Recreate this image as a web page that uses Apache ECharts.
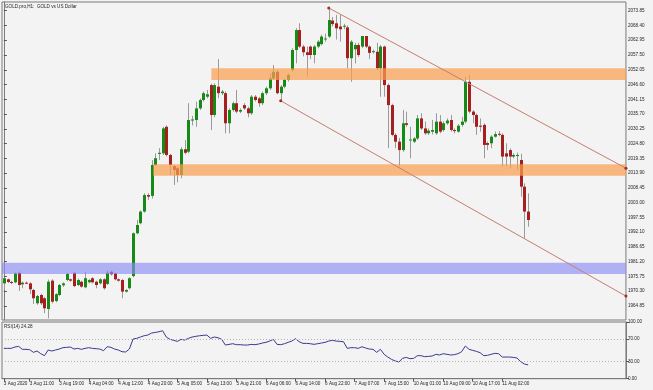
<!DOCTYPE html>
<html>
<head>
<meta charset="utf-8">
<script src="https://cdn.jsdelivr.net/npm/echarts@6.0.0/dist/echarts.min.js"></script>
<style>
html,body{margin:0;padding:0;background:#f3f3f3;}
#chart{width:653px;height:390px;}
</style>
</head>
<body>
<div id="chart"></div>
<script>
// ---------------- data ----------------
// trading sessions (day, first hour, last hour); last days include the empty "future" area of the chart
const sessions = [['3 Aug',4,23],['4 Aug',1,23],['5 Aug',1,23],['6 Aug',1,23],['7 Aug',1,22],['10 Aug',1,23],['11 Aug',1,23],['12 Aug',1,12]];

const opens = [1973.2,1974.7,1973.7,1973.6,1977.1,1972.85,1973.45,1973.2,1970.75,1965.85,
1968.9,1967.7,1963.75,1974.2,1966.7,1968.9,1972.5,1974.45,1974.7,1977.1,
1972.6,1973.8,1971.75,1973.6,1975.1,1973.8,1973.2,1974.7,1973.0,1977.5,
1976.9,1974.7,1974.45,1970.15,1971.4,1975.9,1991.7,1995.4,1999.7,2005.8,
2005.5,2016.9,2021.0,2021.2,2031.0,2020.6,2016.5,2015.7,2013.2,2022.7,
2021.8,2033.3,2033.5,2037.8,2040.9,2042.1,2046.4,2035.35,2045.8,2043.4,
2043.4,2032.3,2037.2,2039.7,2036.6,2039.0,2037.8,2036.0,2042.1,2041.5,
2039.7,2043.4,2045.2,2048.9,2051.3,2043.4,2045.8,2048.3,2051.95,2059.35,
2066.7,2060.6,2058.5,2060.6,2057.5,2060.6,2061.5,2063.4,2064.3,2070.2,
2069.2,2068.0,2068.0,2067.7,2056.3,2059.6,2061.2,2060.6,2064.5,2060.6,
2058.7,2058.7,2052.6,2060.6,2046.4,2039.0,2028.0,2025.5,2022.4,2032.3,
2026.1,2025.5,2026.7,2034.1,2030.4,2028.6,2029.2,2028.6,2032.9,2029.8,
2032.3,2033.5,2029.8,2029.2,2031.7,2032.9,2047.6,2036.6,2035.35,2031.4,
2031.7,2025.0,2024.9,2027.35,2028.4,2028.0,2021.2,2022.4,2020.0,2020.2,
2018.75,2008.9,1999.7];
const closes = [1975.1,1973.7,1973.5,1976.9,1972.6,1973.45,1973.3,1971.0,1967.7,1968.55,
1965.85,1964.0,1973.8,1966.45,1969.2,1972.6,1973.2,1976.7,1974.2,1972.2,
1974.45,1972.0,1975.1,1974.45,1973.6,1972.6,1974.7,1971.4,1977.1,1976.55,
1974.7,1974.2,1970.15,1970.75,1975.1,1991.7,1994.75,1999.7,2005.8,2005.2,
2016.9,2019.4,2021.4,2030.4,2020.6,2016.9,2015.05,2013.2,2022.7,2021.4,
2033.5,2033.7,2037.8,2040.9,2043.4,2043.0,2035.35,2046.4,2043.4,2044.0,
2032.3,2037.2,2039.7,2036.6,2037.2,2037.8,2036.0,2042.1,2040.9,2039.7,
2043.4,2045.2,2048.9,2051.3,2043.4,2045.8,2048.3,2050.1,2059.35,2066.7,
2060.6,2058.5,2057.5,2057.5,2060.6,2062.4,2064.3,2063.6,2070.4,2068.9,
2067.35,2067.0,2068.3,2056.3,2062.4,2061.2,2057.5,2064.5,2060.6,2058.3,
2058.9,2052.6,2060.6,2046.4,2039.0,2028.0,2025.5,2022.4,2032.3,2031.7,
2026.3,2026.7,2034.1,2030.4,2028.6,2029.6,2029.8,2032.9,2029.2,2032.3,
2033.3,2029.8,2029.4,2031.4,2032.9,2047.6,2036.6,2035.35,2031.0,2031.0,
2024.3,2024.3,2027.35,2028.3,2028.2,2020.0,2020.0,2020.0,2020.6,2020.6,
2008.9,1999.7,1996.6];
const lows = [1971.0,1973.3,1972.9,1973.2,1970.4,1971.4,1972.9,1969.3,1965.6,1965.3,
1965.2,1962.2,1960.3,1965.8,1966.2,1968.5,1971.9,1974.0,1973.8,1971.8,
1972.2,1971.6,1971.4,1973.2,1973.2,1971.4,1972.8,1970.9,1972.6,1976.1,
1974.3,1973.8,1967.7,1969.8,1971.0,1975.4,1991.3,1995.0,1999.3,2004.0,
2004.5,2016.5,2018.75,2020.6,2020.0,2013.2,2009.5,2010.5,2012.0,2020.8,
2021.2,2031.5,2031.0,2037.2,2040.3,2041.5,2029.8,2034.5,2041.5,2042.7,
2028.6,2028.6,2036.6,2036.0,2036.0,2037.2,2034.5,2035.35,2040.3,2038.4,
2039.0,2042.7,2044.6,2048.3,2043.0,2040.6,2045.2,2047.7,2051.3,2054.4,
2060.0,2057.0,2049.5,2056.0,2054.4,2060.0,2061.0,2062.4,2063.8,2068.0,
2063.2,2062.4,2067.0,2052.6,2047.6,2054.4,2056.8,2060.0,2060.0,2056.0,
2058.0,2051.9,2042.1,2042.1,2023.1,2027.5,2023.1,2016.3,2021.8,2031.0,
2019.4,2025.0,2026.1,2029.8,2028.0,2028.0,2028.2,2028.0,2028.6,2029.2,
2031.7,2029.2,2028.6,2028.8,2031.0,2032.3,2036.0,2032.3,2028.0,2029.2,
2019.4,2022.4,2023.1,2027.0,2027.5,2016.3,2016.3,2015.7,2019.4,2015.0,
2005.2,1989.8,1994.1];
const highs = [1975.4,1975.0,1974.2,1977.3,1977.6,1973.9,1973.9,1973.6,1971.2,1969.0,
1969.4,1968.2,1974.6,1974.7,1969.6,1973.0,1973.6,1977.1,1975.0,1977.5,
1975.0,1974.2,1977.5,1974.8,1975.5,1974.2,1975.1,1975.1,1978.1,1977.9,
1977.2,1975.0,1974.8,1971.1,1975.5,1992.0,1996.6,2000.1,2006.45,2006.5,
2018.7,2021.2,2023.1,2031.0,2031.5,2021.0,2016.9,2016.2,2023.5,2026.1,
2039.7,2035.0,2040.3,2041.5,2044.0,2044.6,2046.9,2047.0,2056.0,2044.6,
2044.0,2037.8,2040.3,2044.6,2037.8,2039.7,2038.4,2042.7,2042.7,2042.1,
2044.0,2045.8,2050.7,2053.8,2051.9,2046.4,2048.9,2050.7,2060.0,2067.35,
2069.2,2061.2,2060.6,2061.0,2061.2,2063.0,2065.0,2065.4,2074.85,2071.5,
2072.3,2072.3,2069.0,2068.4,2063.0,2062.0,2062.0,2064.5,2064.5,2061.0,
2059.5,2062.0,2061.2,2061.0,2047.0,2039.5,2028.6,2026.9,2037.2,2036.6,
2031.0,2027.2,2035.35,2036.0,2032.9,2030.4,2033.5,2036.0,2035.35,2033.0,
2034.1,2035.35,2030.4,2032.0,2034.7,2049.5,2050.1,2037.2,2035.9,2034.1,
2032.3,2025.5,2027.9,2029.2,2029.4,2028.6,2024.9,2023.0,2021.2,2021.5,
2021.0,2010.1,2006.45];

const rsiValues = [53.5,53.5,53.5,55.9,57.0,51.8,51.8,51.2,46.5,48.8,
44.1,40.6,50.6,48.8,50.6,52.3,54.7,55.3,55.9,52.3,
53.5,51.8,53.5,54.7,53.5,52.9,52.3,49.4,56.5,55.3,
52.3,50.6,47.6,47.1,52.3,70.0,71.2,73.5,75.8,77.0,
80.5,81.6,82.8,84.6,73.5,69.4,67.6,65.8,69.4,68.2,
71.2,73.5,74.7,75.8,76.4,77.0,71.2,73.5,72.3,69.4,
59.4,60.5,61.7,60.0,60.0,59.4,59.4,60.5,60.0,61.1,
62.9,64.1,66.4,69.4,60.5,60.0,61.7,64.1,66.4,70.5,
65.2,62.3,62.3,61.7,60.6,61.7,62.9,64.1,66.4,67.6,
66.4,65.8,65.2,53.5,54.7,54.7,53.5,56.4,54.1,52.3,
51.8,46.5,51.8,43.0,38.2,34.1,31.2,29.5,35.9,37.6,
35.3,35.9,40.6,40.6,38.8,39.4,40.0,43.0,41.8,44.1,
43.0,41.8,42.4,44.1,47.6,57.6,51.8,50.0,48.2,45.9,
40.6,41.2,43.0,44.7,44.1,38.2,38.2,38.2,37.6,36.5,
30.0,25.9,24.28];
const rsiLevels = [70, 30];

const priceTicks = [2073.85,2068.40,2062.95,2057.50,2052.05,2046.60,2041.15,2035.70,2030.25,2024.80,
2019.35,2013.90,2008.45,2003.00,1997.55,1992.10,1986.65,1981.20,1975.75,1970.30,1964.85];
const rsiTicks = [100, 70, 30, 0];
const timeTicks = ['3 Aug 11:00','3 Aug 19:00','4 Aug 04:00','4 Aug 12:00','4 Aug 20:00','5 Aug 05:00',
'5 Aug 13:00','5 Aug 21:00','6 Aug 06:00','6 Aug 14:00','6 Aug 22:00','7 Aug 07:00','7 Aug 15:00',
'10 Aug 01:00','10 Aug 09:00','10 Aug 17:00','11 Aug 02:00'];
const firstTimeLabel = '3 Aug 2020';

// drawn objects: zones [start bar, upper price, lower price], trend lines [[bar, price], [bar, price]]
const resistanceZones = [[56.2, 2052.6, 2048.3], [40.45, 2017.15, 2012.95]];
const supportZones = [[-0.5, 1980.85, 1976.65]];
const trendUpper = [[88, 2074.85], [168.5, 2015.7]];
const trendLower = [[75, 2040.6], [168.5, 1968.5]];

// ---------------- build ----------------
const categories = [];
sessions.forEach(([d, a, b]) => { for (let h = a; h <= b; h++) categories.push(d + ' ' + String(h).padStart(2, '0') + ':00'); });
const N = categories.length;
const BAR = 3.692;
const priceRange = [1959.68, 2077.06];
const tickSet = new Set(timeTicks);
const candleData = opens.map((o, i) => [i, o, closes[i], lows[i], highs[i]]);

const FONT = 'Liberation Sans, Arial, sans-serif';
const FS = 4.6;
const TXT = '#1e1e1e';
const FRAME = '#7a7a7a';

const chart = echarts.init(document.getElementById('chart'), null, {renderer: 'canvas'});

function zoneSeries(data, fill) {
  return {
    type: 'custom', xAxisIndex: 2, yAxisIndex: 0, z: 5, silent: true, clip: true,
    data: data,
    renderItem(params, api) {
      const p1 = api.coord([api.value(0), api.value(1)]);
      const p2 = api.coord([api.value(0), api.value(2)]);
      const cs = params.coordSys;
      return {type: 'rect', shape: {x: p1[0], y: p1[1], width: cs.x + cs.width - p1[0], height: p2[1] - p1[1]},
              style: {fill: fill}};
    }
  };
}
function trendSeries(data) {
  return {
    type: 'line', xAxisIndex: 2, yAxisIndex: 0, z: 6, silent: true,
    data: data, symbol: 'circle', symbolSize: 3, showSymbol: true,
    itemStyle: {color: '#a82a20'},
    lineStyle: {color: '#c47e70', width: 1}
  };
}

const option = {
  animation: false,
  backgroundColor: '#f3f3f3',
  title: [
    {text: 'GOLD.pro,H1:  GOLD vs US Dollar', left: 5, top: 4, padding: 0,
     textStyle: {fontFamily: FONT, fontSize: FS, fontWeight: 'normal', color: TXT}},
    {text: 'RSI(14) ' + rsiValues[rsiValues.length - 1].toFixed(2), left: 4, top: 324, padding: 0,
     textStyle: {fontFamily: FONT, fontSize: FS, fontWeight: 'normal', color: TXT}}
  ],
  grid: [
    {left: 2, top: 2, width: N * BAR, height: 318, show: true, borderColor: FRAME, borderWidth: 1, backgroundColor: 'transparent'},
    {left: 2, top: 322, width: N * BAR, height: 56.7, show: true, borderColor: FRAME, borderWidth: 1, backgroundColor: 'transparent'}
  ],
  xAxis: [
    {type: 'category', gridIndex: 0, data: categories, boundaryGap: true,
     axisLine: {show: false}, axisTick: {show: false}, axisLabel: {show: false}, splitLine: {show: false}},
    {type: 'category', gridIndex: 1, data: categories, boundaryGap: true,
     axisLine: {show: true, lineStyle: {color: FRAME}},
     axisTick: {show: true, alignWithLabel: true, length: 3, interval: (i, v) => i === 0 || tickSet.has(v), lineStyle: {color: '#555'}},
     axisLabel: {show: true, interval: (i, v) => i === 0 || tickSet.has(v), align: 'left', margin: 3,
                 formatter: (v, i) => i === 0 ? firstTimeLabel : v,
                 fontFamily: FONT, fontSize: FS, color: TXT},
     splitLine: {show: false}},
    {type: 'value', gridIndex: 0, min: -0.5, max: N - 0.5, show: false}
  ],
  yAxis: [
    {type: 'value', gridIndex: 0, position: 'right', min: priceRange[0], max: priceRange[1],
     axisLine: {show: true, lineStyle: {color: FRAME}},
     axisTick: {show: true, customValues: priceTicks, length: 3, lineStyle: {color: '#555'}},
     axisLabel: {show: true, customValues: priceTicks, formatter: v => v.toFixed(2), margin: 2,
                 fontFamily: FONT, fontSize: FS, color: TXT},
     splitLine: {show: false}},
    {type: 'value', gridIndex: 1, position: 'right', min: 0, max: 100,
     axisLine: {show: true, lineStyle: {color: FRAME}},
     axisTick: {show: true, customValues: rsiTicks, length: 3, lineStyle: {color: '#555'}},
     axisLabel: {show: true, customValues: rsiTicks, formatter: v => v.toFixed(2), margin: 2,
                 fontFamily: FONT, fontSize: FS, color: TXT},
     splitLine: {show: false}}
  ],
  series: [
    {
      type: 'custom', xAxisIndex: 0, yAxisIndex: 0, z: 3, silent: true,
      data: candleData,
      encode: {x: 0, y: [1, 2, 3, 4]},
      renderItem(params, api) {
        const i = api.value(0), o = api.value(1), c = api.value(2), l = api.value(3), h = api.value(4);
        const pO = api.coord([i, o]), pC = api.coord([i, c]), pL = api.coord([i, l]), pH = api.coord([i, h]);
        const cx = Math.round(pO[0]);
        const top = Math.min(pO[1], pC[1]), bot = Math.max(pO[1], pC[1]);
        const up = c >= o;
        return {type: 'group', children: [
          {type: 'line', shape: {x1: cx + 0.5, y1: pH[1], x2: cx + 0.5, y2: pL[1]}, style: {stroke: '#9a9a9a', lineWidth: 1}},
          {type: 'rect', shape: {x: cx - 1, y: top, width: 3, height: Math.max(1, bot - top)},
           style: {fill: up ? '#168a16' : '#a61e1e'}}
        ]};
      }
    },
    zoneSeries(resistanceZones, 'rgba(250,160,80,0.72)'),
    zoneSeries(supportZones, 'rgba(140,140,245,0.65)'),
    trendSeries(trendUpper),
    trendSeries(trendLower),
    {
      type: 'line', xAxisIndex: 1, yAxisIndex: 1, data: rsiValues, symbol: 'none', z: 4,
      lineStyle: {color: '#3a3a90', width: 1},
      markLine: {silent: true, symbol: 'none', label: {show: false},
                 lineStyle: {type: [1, 2], color: '#b4b4b4', width: 1},
                 data: rsiLevels.map(v => ({yAxis: v}))}
    }
  ]
};
chart.setOption(option);
</script>
</body>
</html>
